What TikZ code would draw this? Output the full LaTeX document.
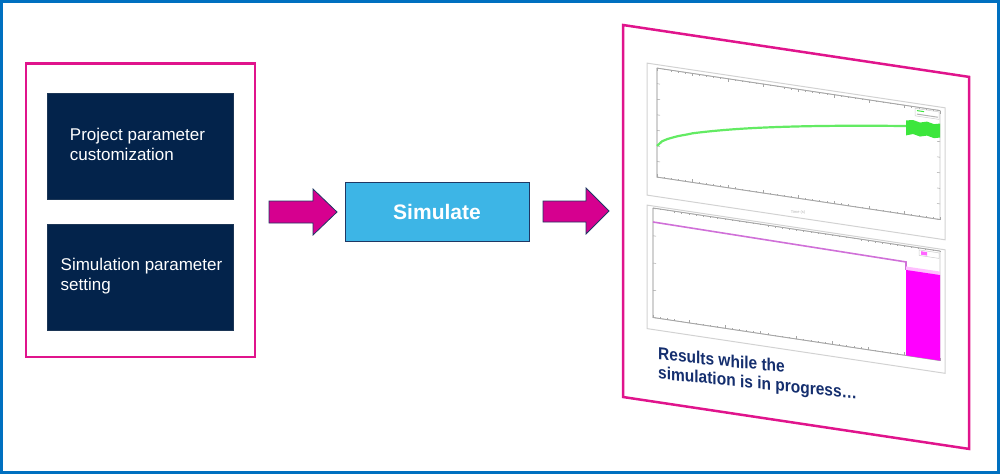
\documentclass[tikz,border=0pt]{standalone}
\usepackage{fontspec}
\setmainfont{Liberation Sans}
\usetikzlibrary{calc}
\definecolor{frameblue}{HTML}{0070C0}
\definecolor{pinkline}{HTML}{E0148C}
\definecolor{navybox}{HTML}{03234B}
\definecolor{simblue}{HTML}{3DB5E6}
\definecolor{outlinec}{HTML}{1F3864}
\definecolor{arrowpink}{HTML}{D6008F}
\definecolor{navytext}{HTML}{142E6E}
\definecolor{plotgreen}{HTML}{3CE63C}
\definecolor{plotmag}{HTML}{FF00FF}
\definecolor{plotline}{HTML}{D070D8}
\tikzset{
  darkbox/.style={fill=navybox, draw=navybox!80!gray, line width=0.5pt,
    minimum width=186pt, minimum height=106pt, inner sep=0pt},
  boxtext/.style={text=white, align=left, inner sep=0pt,
    font=\fontsize{17}{20}\selectfont},
  simbox/.style={fill=simblue, draw=outlinec, line width=1pt, text=white,
    minimum width=184pt, minimum height=59pt, inner sep=0pt,
    font=\fontsize{21}{24}\selectfont\bfseries},
  pinkframe/.style={draw=pinkline, line width=2.5pt},
  blockarrow/.style={fill=arrowpink, draw=outlinec, line width=0.8pt, line join=miter},
  frameg/.style={draw=gray!35, line width=1pt},
  axisg/.style={draw=gray!70, line width=0.8pt},
  tickg/.style={draw=gray!70, line width=0.5pt},
  restext/.style={text=navytext, align=left, inner sep=0pt, anchor=north west,
    font=\fontsize{15.5}{17}\selectfont\bfseries},
}
\begin{document}
\begin{tikzpicture}[x=1pt,y=-1pt]
\useasboundingbox (0,0) rectangle (1000,474);
\draw[frameblue, line width=3pt] (1.5,1.5) rectangle (998.5,472.5);

% left group
\node[draw=pinkline, line width=2.5pt, minimum width=229pt, minimum height=293.5pt, inner sep=0pt] (grp) at (140.5,210.25) {};
\node[darkbox] (proj) at (140.3,146.3) {};
\node[boxtext] (projt) at (137.5,144.8) {Project parameter\\customization};
\node[darkbox] (simp) at (140.3,277.5) {};
\node[boxtext] (simpt) at (141.5,276) {Simulation parameter\\setting};

% simulate
\node[simbox] (sim) at (437,211.5) {Simulate};

% block arrows
\coordinate (a1) at (269,212);
\coordinate (a2) at (543,211);
\draw[blockarrow] (a1) ++(0,-11) -- ++(44,0) -- ++(0,-12) -- (337,212) -- (313,235) -- (313,223) -- (269,223) -- cycle;
\draw[blockarrow] (a2) ++(0,-10) -- ++(43,0) -- ++(0,-13) -- (609,211) -- (586,234) -- (586,222) -- (543,222) -- cycle;

% results panel (perspective)
\begin{scope}[shift={(623,0)}, yslant=-0.15]
  \draw[pinkframe] (0,25) rectangle (346,397);
  % top plot
  \draw[frameg] (24,59.5) rectangle (322,191.5);
  \draw[draw=gray!45, line width=0.8pt] (34,63) rectangle (317,172);
  \draw[axisg] (34,63) -- (34,172) -- (317,172);
  \draw[axisg] (34,63) -- (317,63);
  \foreach \i in {0,...,40} {
    \draw[tickg] ({34+\i*7.075},172) -- ++(0,-1.3);
    \draw[tickg] ({34+\i*7.075},63) -- ++(0,1.3);
  }
  \foreach \i in {0,...,8} {
    \draw[tickg] ({34+\i*35.375},172) -- ++(0,-3);
    \draw[tickg] ({34+\i*35.375},63) -- ++(0,3);
  }
  \foreach \i in {0,...,7} {
    \draw[tickg] (34,{63+\i*15.57}) -- ++(3,0);
    \draw[tickg] (317,{63+\i*15.57}) -- ++(-3,0);
  }
  \node[text=gray!60, font=\fontsize{4}{4}\selectfont, inner sep=0pt] (tlab) at (175,186) {Time (s)};
  \draw[plotgreen!80!white, line width=2.2pt] plot[domain=0.0001:0.883, samples=50, variable=\t] ({34+283*\t}, {141-62*(\t)^0.6});
  \fill[plotgreen] (283,78) -- (290,76.5) -- (297,78) -- (304,76) -- (311,77.5) -- (317,76)
     -- (317,90) -- (311,91.5) -- (304,90) -- (297,92) -- (290,90.5) -- (283,93) -- cycle;
  \draw[draw=gray!40, line width=0.5pt] (292,64.5) rectangle (316,72);
  \draw[plotgreen, line width=1pt] (294,66.5) -- (301,66.5);
  \draw[gray!60, line width=1pt] (294,70) -- (315,70);
  % bottom plot
  \draw[frameg] (24,201.5) rectangle (322,325);
  \draw[draw=gray!45, line width=0.8pt] (30,203.5) rectangle (317,313);
  \draw[axisg] (30,203.5) -- (30,313) -- (317,313);
  \draw[axisg] (30,203.5) -- (317,203.5);
  \foreach \i in {0,...,40} {
    \draw[tickg] ({30+\i*7.175},313) -- ++(0,-1.3);
    \draw[tickg] ({30+\i*7.175},203.5) -- ++(0,1.3);
  }
  \foreach \i in {0,...,8} {
    \draw[tickg] ({30+\i*35.875},313) -- ++(0,-3);
  }
  \foreach \i in {0,...,4} {
    \draw[tickg] (30,{204+\i*27.25}) -- ++(3,0);
  }
  \draw[plotline, line width=1.6pt] (30,217.5) -- (283,219.5) -- (283,227.5);
  \fill[plotmag!25] (283,224) rectangle (317,228);
  \fill[plotmag] (283,227.5) rectangle (317,313);
  \draw[draw=gray!40, line width=0.5pt] (296,205.5) rectangle (316,211);
  \fill[plotmag!60] (298,206.5) rectangle (304,210);
\end{scope}

\begin{scope}[shift={(658,0)}, yslant=-0.1, transform shape]
  \node[restext, yscale=1.12] (res) at (0,347) {Results while the\\simulation is in progress…};
\end{scope}
\end{tikzpicture}
\end{document}
